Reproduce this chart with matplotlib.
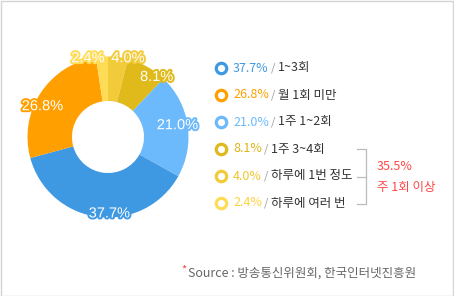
import matplotlib
matplotlib.use("Agg")
import matplotlib.pyplot as plt
import matplotlib.patheffects as pe
from matplotlib.patches import Rectangle
import numpy as np

plt.rcParams['font.family'] = ['Noto Sans CJK KR', 'DejaVu Sans']

# data, in legend order
values = [37.7, 26.8, 21.0, 8.1, 4.0, 2.4]
labels = ["1~3회", "월 1회 미만", "1주 1~2회", "1주 3~4회", "하루에 1번 정도", "하루에 여러 번"]
slice_colors = ["#3e98e2", "#ff9f00", "#6cb9fc", "#e0b91a", "#f2cb3b", "#ffdc56"]
text_colors = ["#3e98e2", "#ff9f00", "#6cb9fc", "#dcb416", "#f0c630", "#ffd23c"]
pie_order = [4, 3, 2, 0, 1, 5]          # clockwise from 12 o'clock
group_total = "35.5%"
group_label = "주 1회 이상"
source = "Source : 방송통신위원회, 한국인터넷진흥원"

# label nudges (degrees, radius fraction) in legend order
label_shift = [-8, -8, -1, 10, 7, -10]
label_rad = [0.95, 0.9, 0.875, 0.96, 1.01, 1.01]

W, H = 454, 296
fig = plt.figure(figsize=(W / 100, H / 100), dpi=100)
ax = fig.add_axes([0, 0, 1, 1])

cx, cy, r_out, r_in = 108, H - 137, 80.5, 36
vals = [values[i] for i in pie_order]
cols = [slice_colors[i] for i in pie_order]
ax.pie(vals, colors=cols, startangle=90, counterclock=False,
       center=(cx, cy), radius=r_out, frame=True,
       wedgeprops=dict(width=r_out - r_in, linewidth=0))
ax.set_xlim(0, W)
ax.set_ylim(0, H)
ax.set_aspect('equal')
ax.axis('off')

# percent labels on the ring
cum = 0
for i in pie_order:
    mid = cum + values[i] / 2
    cum += values[i]
    ang = np.deg2rad(mid / 100 * 360 + label_shift[i])
    rr = r_out * label_rad[i]
    x = cx + rr * np.sin(ang)
    y = cy + rr * np.cos(ang)
    ax.text(x, y, f"{values[i]:.1f}%", color="white", fontsize=10.5,
            family=["Liberation Sans", "DejaVu Sans"],
            ha="center", va="center",
            path_effects=[pe.withStroke(linewidth=2.8, foreground=slice_colors[i])])

# legend
y0, dy = H - 68, 27
fig.canvas.draw()
for k in range(len(values)):
    y = y0 - k * dy
    ax.plot(221, y, marker="o", markersize=7.5, markerfacecolor="white",
            markeredgecolor=slice_colors[k], markeredgewidth=2.3)
    t = ax.text(233, y, f"{values[k]:.1f}%", color=text_colors[k],
                fontsize=9, ha="left", va="center")
    bb = t.get_window_extent(renderer=fig.canvas.get_renderer())
    t2 = ax.text(bb.x1 + 2, y, "/", color="#999999", fontsize=8, ha="left", va="center")
    bb2 = t2.get_window_extent(renderer=fig.canvas.get_renderer())
    ax.text(bb2.x1 + 3, y, labels[k], color="#333333", fontsize=9,
            ha="left", va="center")

# bracket for the last three rows
ytop, ymid, ybot = H - 149, H - 177, H - 204
ax.plot([357, 366, 366, 357], [ytop, ytop, ybot, ybot], color="#bbbbbb", lw=0.9)
ax.plot([357, 366], [ymid, ymid], color="#bbbbbb", lw=0.9)
ax.text(377, H - 167, group_total, color="#ff4747", fontsize=9, ha="left", va="center")
ax.text(377, H - 187, group_label, color="#ff4747", fontsize=9, ha="left", va="center")

# source
ax.text(181, H - 269, "*", color="#ff4747", fontsize=8, ha="left", va="center")
ax.text(188, H - 273, source, color="#666666", fontsize=9, ha="left", va="center")

# frame
ax.add_patch(Rectangle((0.5, 0.5), W - 1.5, H - 1.5, fill=False,
                       edgecolor="#d4d4d4", lw=1))

fig.savefig("out.png", dpi=100)
